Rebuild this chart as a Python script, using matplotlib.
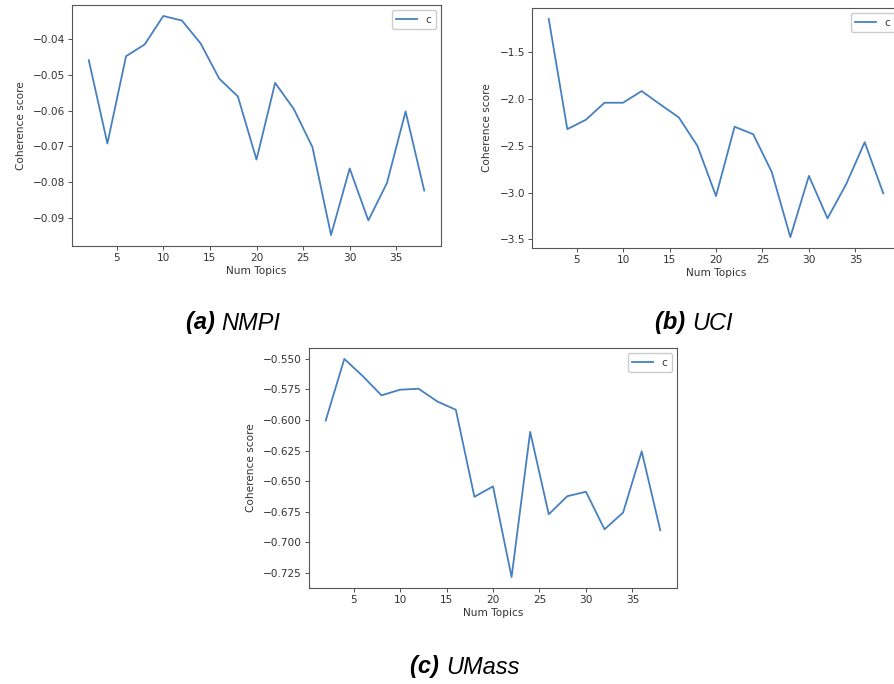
import matplotlib
matplotlib.use("Agg")
import matplotlib.pyplot as plt

# Number of topics tried (shared by all three panels)
num_topics = list(range(2, 40, 2))

# Coherence scores
nmpi_scores = [-0.0458, -0.0692, -0.0447, -0.0414, -0.0334, -0.0347, -0.0411,
               -0.0510, -0.0560, -0.0737, -0.0522, -0.0595, -0.0702, -0.0949,
               -0.0762, -0.0908, -0.0803, -0.0602, -0.0824]
uci_scores = [-1.143, -2.321, -2.221, -2.039, -2.039, -1.914, -2.057, -2.196,
              -2.500, -3.036, -2.296, -2.375, -2.779, -3.475, -2.821, -3.275,
              -2.911, -2.461, -3.007]
umass_scores = [-0.6004, -0.5500, -0.5642, -0.5798, -0.5752, -0.5744, -0.5848,
                -0.5916, -0.6628, -0.6543, -0.7285, -0.6097, -0.6771, -0.6623,
                -0.6587, -0.6894, -0.6757, -0.6256, -0.6902]

caption_tags = ["(a)", "(b)", "(c)"]
caption_names = ["NMPI", "UCI", "UMass"]

W, H = 894, 684
fig = plt.figure(figsize=(W / 100, H / 100), dpi=100)

# axes boxes in pixels: left, top, right, bottom
boxes = [(72, 5, 441, 246), (532, 8, 900, 248), (309, 348, 677, 588)]
series = [nmpi_scores, uci_scores, umass_scores]
captions = [(233, 323), (694, 323), (465, 667)]

line_color = "#4680c0"
text_color = "#333333"

for (l, t, r, b), ys in zip(boxes, series):
    ax = fig.add_axes([l / W, 1 - b / H, (r - l) / W, (b - t) / H])
    ax.plot(num_topics, ys, color=line_color, linewidth=1.3, label="c")
    ax.set_xlabel("Num Topics", fontsize=7.6, color=text_color, labelpad=2)
    ax.set_ylabel("Coherence score", fontsize=7.6, color=text_color, labelpad=5)
    ax.tick_params(labelsize=7.6, colors=text_color, length=3, width=0.6, pad=2)
    for sp in ax.spines.values():
        sp.set_color("#555555")
        sp.set_linewidth(0.8)
    ax.legend(loc="upper right", fontsize=7.6, handlelength=2.0,
              borderpad=0.4, labelcolor=text_color, framealpha=1)

# captions: bold-italic tag followed by italic name
renderer = fig.canvas.get_renderer()
for (cx, cy), tag, name in zip(captions, caption_tags, caption_names):
    t1 = fig.text(0, 0, tag + " ", fontsize=17, family="Liberation Sans",
                  style="italic", weight="bold")
    t2 = fig.text(0, 0, name, fontsize=17, family="Liberation Sans",
                  style="italic")
    w1 = t1.get_window_extent(renderer).width
    w2 = t2.get_window_extent(renderer).width
    x0 = cx - (w1 + w2) / 2
    t1.set_position((x0 / W, 1 - cy / H))
    t2.set_position(((x0 + w1) / W, 1 - cy / H))
    t1.set_va("center")
    t2.set_va("center")

fig.savefig("out.png", dpi=100)
